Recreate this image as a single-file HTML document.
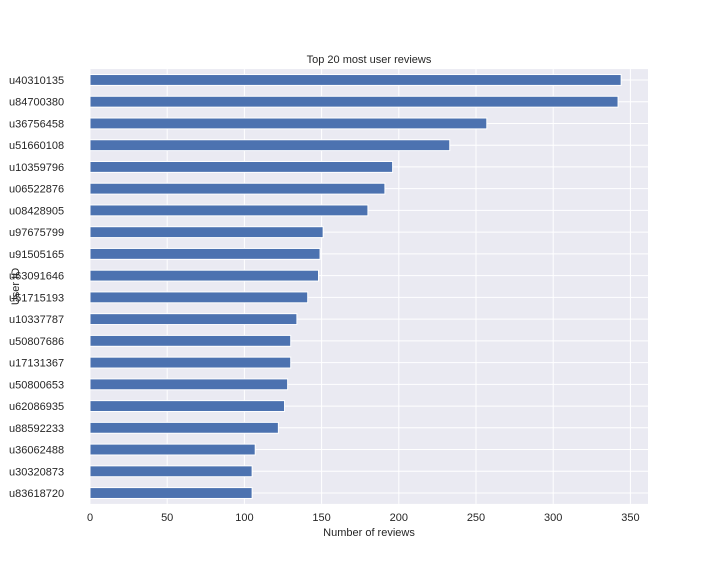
<!DOCTYPE html>
<html><head><meta charset="utf-8"><style>
body{margin:0;background:#fff;font-family:"Liberation Sans",sans-serif}
svg text{font-family:"Liberation Sans",sans-serif;fill:#262626}
</style></head><body>
<svg width="720" height="576">
<rect x="0" y="0" width="720" height="576" fill="#fff"/>
<g id="plot"></g>
</svg>
<script>
const users=["u40310135","u84700380","u36756458","u51660108","u10359796","u06522876","u08428905","u97675799","u91505165","u63091646","u51715193","u10337787","u50807686","u17131367","u50800653","u62086935","u88592233","u36062488","u30320873","u83618720"];
const reviews=[344,342,257,233,196,191,180,151,149,148,141,134,130,130,128,126,122,107,105,105];
const xTicks=[0,50,100,150,200,250,300,350];
const L=90,R=648,T=69.1,B=503.9;
const xs=v=>L+v*1.544;
const step=(B-T)/users.length;
const yc=i=>T+step*(i+0.5);
const NS="http://www.w3.org/2000/svg";
const g=document.getElementById('plot');
function mk(t,a,p){const e=document.createElementNS(NS,t);for(const k in a)e.setAttribute(k,a[k]);(p||g).appendChild(e);return e;}
const bg=mk('rect',{x:L,y:T,width:R-L,height:B-T,fill:'#eaeaf2'});


xTicks.forEach(v=>{
 const l=mk('line',{x1:xs(v),x2:xs(v),y1:T,y2:B,stroke:'#fff','stroke-width':1});
 
 
 const t=mk('text',{x:xs(v),y:521,'text-anchor':'middle','font-size':11});
 t.textContent=v;
 
 
});
users.forEach((u,i)=>{
 const l=mk('line',{x1:L,x2:R,y1:yc(i),y2:yc(i),stroke:'#fff','stroke-width':1});
 
 
});
users.forEach((u,i)=>{
 const h=step*0.5;
 const b=mk('rect',{x:L,y:yc(i)-h/2,width:xs(reviews[i])-L,height:h,fill:'#4c72b0',stroke:'#fff','stroke-width':1});
 
 
 const t=mk('text',{x:L-81,y:yc(i)+4,'font-size':11});
 t.textContent=u;
 
 
});
const ti=mk('text',{x:(L+R)/2,y:63,'text-anchor':'middle','font-size':11});
ti.textContent='Top 20 most user reviews';


const xl=mk('text',{x:(L+R)/2,y:536,'text-anchor':'middle','font-size':11});
xl.textContent='Number of reviews';


const yl=mk('text',{x:0,y:0,'text-anchor':'middle','font-size':11,transform:`translate(19,${(T+B)/2}) rotate(-90)`});
yl.textContent='User ID';


</script>
</body></html>
